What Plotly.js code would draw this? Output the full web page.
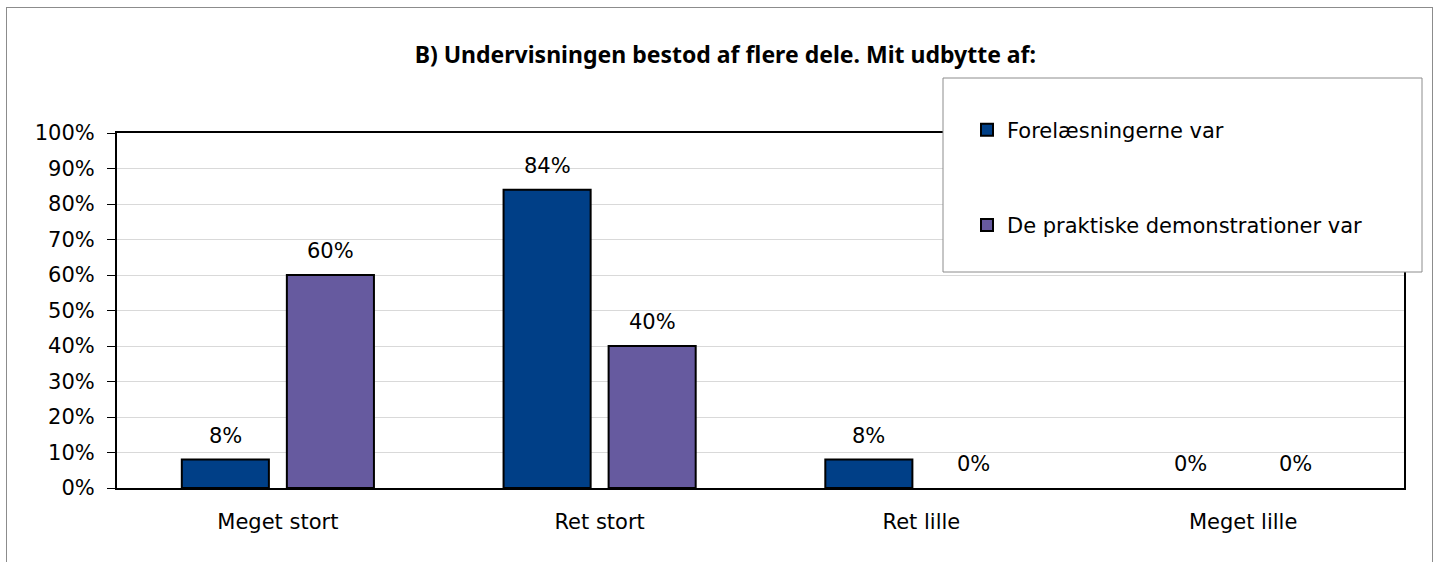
<!DOCTYPE html>
<html>
<head>
<meta charset="utf-8">
<script src="https://cdn.plot.ly/plotly-3.0.1.min.js"></script>
<style>
html,body{margin:0;padding:0;background:#fff;}
#frame{position:absolute;left:6px;top:7px;width:1427px;height:600px;border-top:1.5px solid #8c8c8c;border-left:1.5px solid #8c8c8c;border-right:1.5px solid #8c8c8c;box-sizing:border-box;}
#chart{position:absolute;left:0;top:0;width:1442px;height:562px;}
</style>
</head>
<body>
<div id="frame"></div>
<div id="chart"></div>
<script>
const categories = ["Meget stort", "Ret stort", "Ret lille", "Meget lille"];
const seriesNames = ["Forelæsningerne var", "De praktiske demonstrationer var"];
const forelaesninger = [0.08, 0.84, 0.08, 0.00];
const demonstrationer = [0.60, 0.40, 0.00, 0.00];
const yTickVals = [0, 0.1, 0.2, 0.3, 0.4, 0.5, 0.6, 0.7, 0.8, 0.9, 1.0];
const yTickText = ["0%", "10%", "20%", "30%", "40%", "50%", "60%", "70%", "80%", "90%", "100%"];
const titleText = "B) Undervisningen bestod af flere dele. Mit udbytte af:";

const FONT = "DejaVu Sans, sans-serif";
const TITLE_FONT = "Noto Sans, DejaVu Sans, sans-serif";
const FS = 21;
const pct = v => Math.round(v * 100) + "%";
const lineW = vals => vals.map(v => v > 0 ? 2 : 0);

const seriesValues = [forelaesninger, demonstrationer];
const colors = ["#003F87", "#665A9F"];

const traces = seriesValues.map((vals, i) => ({
  type: "bar", name: seriesNames[i], x: categories, y: vals,
  marker: {color: colors[i], line: {color: "#000", width: lineW(vals)}},
  legendgroup: "g" + i, hoverinfo: "skip"
}));

// data labels placed through the axes, shifted to each bar of the group
const groupShift = [-52.5, 52.5];
const annotations = [];
seriesValues.forEach((vals, i) => {
  vals.forEach((v, j) => {
    annotations.push({
      x: categories[j], y: v, xref: "x", yref: "y",
      text: pct(v), showarrow: false, xshift: groupShift[i], yshift: 10,
      yanchor: "bottom", xanchor: "center",
      font: {family: FONT, size: FS, color: "#000"}
    });
  });
});

const layout = {
  width: 1442, height: 562,
  paper_bgcolor: "rgba(0,0,0,0)", plot_bgcolor: "rgba(0,0,0,0)",
  margin: {l: 117, r: 38, t: 133, b: 74, pad: 0},
  font: {family: FONT, size: FS, color: "#000"},
  title: {text: "<b>" + titleText + "</b>", font: {family: TITLE_FONT, size: 23, color: "#000"},
          x: 0.503, xref: "container", xanchor: "center", y: 1 - 55/562, yanchor: "middle"},
  barmode: "group", bargap: 0.347, bargroupgap: 0.171,
  showlegend: true,
  legend: {x: (967-117)/1287, xanchor: "left", y: 1.066, yanchor: "top",
           bgcolor: "rgba(0,0,0,0)", borderwidth: 0, itemwidth: 30,
           font: {family: FONT, size: FS, color: "#000"},
           traceorder: "grouped", tracegroupgap: 65, itemclick: false},
  xaxis: {type: "category", showline: true, linecolor: "#000", linewidth: 2, mirror: true,
          ticks: "", showgrid: false, tickfont: {family: FONT, size: FS},
          ticklabelstandoff: 14, fixedrange: true},
  yaxis: {range: [0, 1], tickvals: yTickVals, ticktext: yTickText,
          showline: true, linecolor: "#000", linewidth: 2, mirror: true,
          ticks: "outside", ticklen: 8, tickcolor: "#000", tickwidth: 1,
          showgrid: true, gridcolor: "#d9d9d9", gridwidth: 1, zeroline: false,
          tickfont: {family: FONT, size: FS}, ticklabelstandoff: 8, fixedrange: true},
  annotations: annotations,
  shapes: [
    {type: "rect", xref: "paper", yref: "paper", layer: "above",
     x0: (943-117)/1287, x1: (1422-117)/1287, y0: (488-272)/355, y1: (488-78)/355,
     fillcolor: "#fff", line: {color: "#8c8c8c", width: 1}}
  ]
};

Plotly.newPlot("chart", traces, layout, {displayModeBar: false, staticPlot: true});
</script>
</body>
</html>
